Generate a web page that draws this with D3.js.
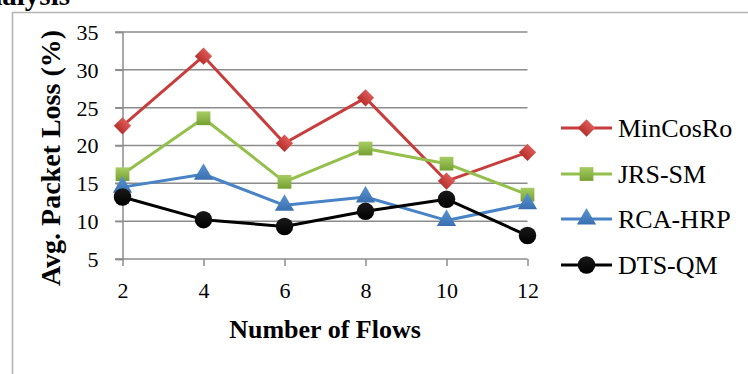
<!DOCTYPE html>
<html>
<head>
<meta charset="utf-8">
<script src="https://cdn.jsdelivr.net/npm/d3@7"></script>
<style>
  html, body { margin: 0; padding: 0; background: #fff; }
  svg { display: block; }
  text { font-family: "Liberation Serif", "Times New Roman", serif; fill: #000; }
</style>
</head>
<body>
<svg id="chart" width="748" height="374"></svg>
<script>
// Number of flows on the x axis
const flows = ["2", "4", "6", "8", "10", "12"];
// Average packet loss (%) per routing scheme
const minCosRo = [22.6, 31.8, 20.3, 26.3, 15.3, 19.1];
const jrsSm    = [16.2, 23.6, 15.2, 19.6, 17.6, 13.5];
const rcaHrp   = [14.5, 16.2, 12.1, 13.2, 10.1, 12.3];
const dtsQm    = [13.2, 10.2,  9.3, 11.3, 12.9,  8.1];
const yTicks   = [5, 10, 15, 20, 25, 30, 35];

const seriesNames = ["MinCosRo", "JRS-SM", "RCA-HRP", "DTS-QM"];
const seriesValues = [minCosRo, jrsSm, rcaHrp, dtsQm];
const seriesColors = ["#c63d3b", "#93bf4b", "#4783c6", "#000000"];
const seriesMarkers = ["diamond", "square", "triangle", "circle"];

const svg = d3.select("#chart");

const x = d3.scalePoint().domain(flows).range([122.5, 527.5]);
const y = d3.scaleLinear().domain([5, 35]).range([259, 32]);

// gradients for marker fills
const defs = svg.append("defs");
const grads = [
  ["g0", "#dc5a57", "#b8302e"],
  ["g1", "#a6cd62", "#76a032"],
  ["g2", "#5a95d6", "#3a6fae"],
  ["g3", "#1a1a1a", "#000000"]
];
grads.forEach(([id, c1, c2]) => {
  const lg = defs.append("linearGradient").attr("id", id)
    .attr("x1", 0).attr("y1", 0).attr("x2", 0).attr("y2", 1);
  lg.append("stop").attr("offset", "0%").attr("stop-color", c1);
  lg.append("stop").attr("offset", "100%").attr("stop-color", c2);
});

// outer frame (top and left edges)
svg.append("path")
  .attr("d", "M12.5,374 L12.5,12.5 L748,12.5")
  .attr("fill", "none").attr("stroke", "#b4b4b4").attr("stroke-width", 1.6);

// section heading, partly off-canvas
svg.append("text")
  .attr("x", 70).attr("y", 5)
  .attr("text-anchor", "end")
  .attr("font-weight", "bold")
  .attr("font-size", 29)
  .text("Analysis");

// horizontal gridlines
svg.append("g")
  .selectAll("line")
  .data(yTicks.filter(v => v > 5))
  .join("line")
  .attr("x1", 115).attr("x2", x("12"))
  .attr("y1", d => y(d)).attr("y2", d => y(d))
  .attr("stroke", "#8c8c8c").attr("stroke-width", 1.5);

// y axis
const yAxis = svg.append("g")
  .attr("transform", `translate(${x("2")},0)`)
  .call(d3.axisLeft(y).tickValues(yTicks).tickSize(7).tickPadding(17).tickFormat(d3.format("d")));
yAxis.select(".domain").attr("stroke", "#8c8c8c").attr("stroke-width", 1.5);
yAxis.selectAll(".tick line").attr("stroke", "#8c8c8c").attr("stroke-width", 1.5);
yAxis.selectAll(".tick text")
  .attr("font-family", "Liberation Serif, serif")
  .attr("font-size", 22).attr("fill", "#000").attr("dy", "0.34em");

// x axis
const xAxis = svg.append("g")
  .attr("transform", `translate(0,${y(5)})`)
  .call(d3.axisBottom(x).tickSize(7).tickPadding(16).tickSizeOuter(0));
xAxis.select(".domain")
  .attr("d", `M115,0H${x("12")}`)
  .attr("stroke", "#8c8c8c").attr("stroke-width", 1.5);
xAxis.selectAll(".tick line").attr("stroke", "#8c8c8c").attr("stroke-width", 1.5);
xAxis.selectAll(".tick text")
  .attr("font-family", "Liberation Serif, serif")
  .attr("font-size", 22).attr("fill", "#000");

// axis titles
svg.append("text")
  .attr("x", (x("2") + x("12")) / 2).attr("y", 338)
  .attr("text-anchor", "middle")
  .attr("font-weight", "bold").attr("font-size", 26)
  .text("Number of Flows");

svg.append("text")
  .attr("transform", "translate(60,158) rotate(-90)")
  .attr("text-anchor", "middle")
  .attr("font-weight", "bold").attr("font-size", 28)
  .text("Avg. Packet Loss (%)");

function markerPath(kind) {
  if (kind === "diamond") return d3.symbol(d3.symbolSquare, 150)();
  if (kind === "square") return d3.symbol(d3.symbolSquare, 190)();
  if (kind === "triangle") return d3.symbol(d3.symbolTriangle, 160)();
  return d3.symbol(d3.symbolCircle, 240)();
}
function markerRotate(kind) { return kind === "diamond" ? 45 : 0; }

const line = d3.line().x((d, i) => x(flows[i])).y(d => y(d));

seriesValues.forEach((vals, s) => {
  const g = svg.append("g");
  g.append("path")
    .attr("d", line(vals))
    .attr("fill", "none")
    .attr("stroke", seriesColors[s])
    .attr("stroke-width", 3)
    .attr("stroke-linejoin", "round");
  g.selectAll("path.m")
    .data(vals)
    .join("path")
    .attr("class", "m")
    .attr("d", markerPath(seriesMarkers[s]))
    .attr("transform", (d, i) => `translate(${x(flows[i])},${y(d)}) rotate(${markerRotate(seriesMarkers[s])})`)
    .attr("fill", `url(#g${s})`);
});

// legend
const legendRows = [128, 174, 219, 265];
seriesNames.forEach((name, s) => {
  const g = svg.append("g").attr("transform", `translate(0,${legendRows[s]})`);
  g.append("line")
    .attr("x1", 561).attr("x2", 612).attr("y1", 0).attr("y2", 0)
    .attr("stroke", seriesColors[s]).attr("stroke-width", 3);
  g.append("path")
    .attr("d", markerPath(seriesMarkers[s]))
    .attr("transform", `translate(586.5,0) rotate(${markerRotate(seriesMarkers[s])})`)
    .attr("fill", `url(#g${s})`);
  g.append("text")
    .attr("x", 618).attr("y", 8.5)
    .attr("font-size", 26)
    .text(name);
});
</script>
</body>
</html>
